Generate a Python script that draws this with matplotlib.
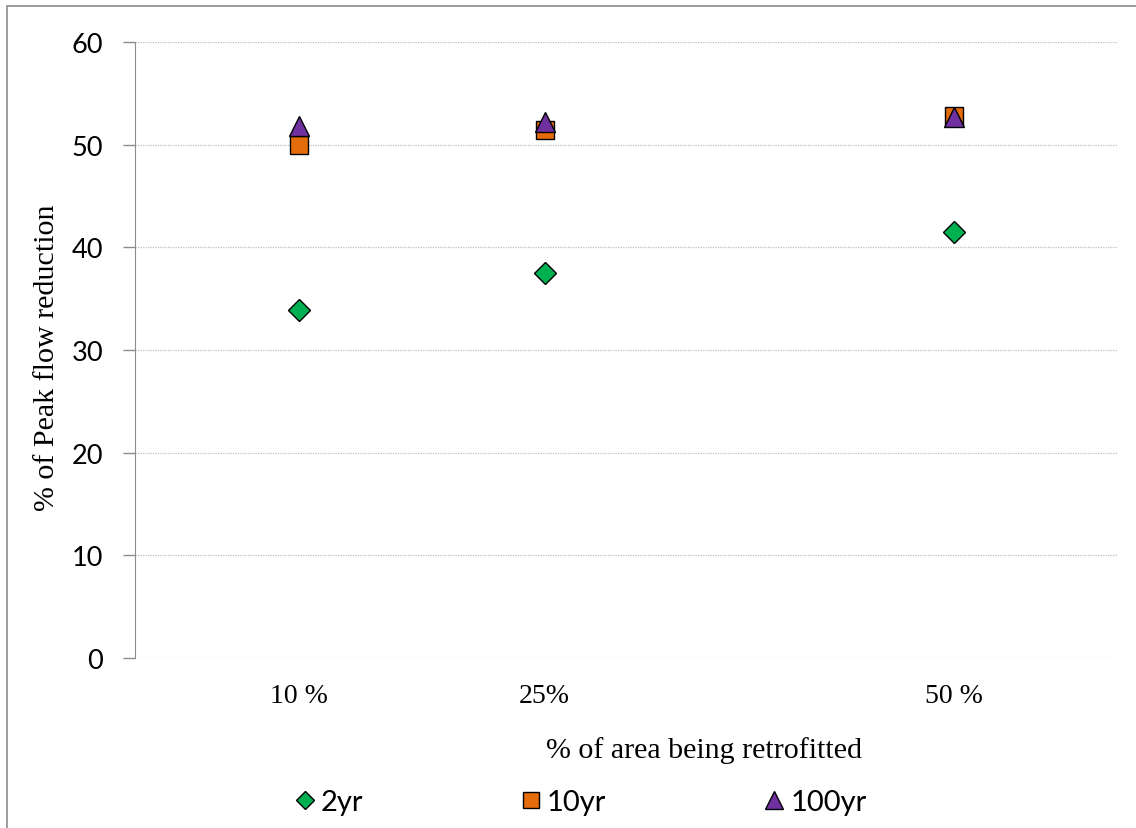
import matplotlib
matplotlib.use('Agg')
import matplotlib.pyplot as plt
from matplotlib.patches import Rectangle

# data
area = [10, 25, 50]
area_labels = ['10 %', '25%', '50 %']
yr2 = [33.9, 37.5, 41.5]
yr10 = [50.0, 51.4, 52.8]
yr100 = [51.8, 52.2, 52.7]

fig = plt.figure(figsize=(11.36, 8.29), dpi=100)
ax = fig.add_axes([0.1188, 0.2051, 0.8654, 0.7430])

# outer chart border (only left/top visible in the reference)
fig.patches.append(Rectangle((7/1136, -0.05), 1.2, 1 - 7/829 + 0.05, transform=fig.transFigure,
                             fill=False, edgecolor='#8c8c8c', linewidth=1.2))

ax.plot(area, yr2, linestyle='none', marker='D', ms=11, color='#00B050', mec='black', mew=1, label='2yr', zorder=3)
ax.plot(area, yr10, linestyle='none', marker='s', ms=13, color='#E46C0A', mec='black', mew=1, label='10yr', zorder=4)
ax.plot(area, yr100, linestyle='none', marker='^', ms=15, color='#7030A0', mec='black', mew=1, label='100yr', zorder=5)

ax.set_xlim(0, 60)
ax.set_ylim(0, 60)
ax.set_yticks(range(0, 61, 10))
ax.set_xticks(area)
ax.set_xticklabels(area_labels, family='Liberation Serif', fontsize=20)
ax.tick_params(axis='x', length=0, pad=18)
ax.tick_params(axis='y', length=9, width=1, color='#8c8c8c', pad=14, labelsize=19.5)
for lb in ax.get_yticklabels():
    lb.set_family('Lato')

for s in ['top', 'right', 'bottom']:
    ax.spines[s].set_visible(False)
ax.spines['left'].set_color('#8c8c8c')
ax.grid(axis='y', linestyle=(0, (1, 1)), color='#bfbfbf', linewidth=0.9)
ax.set_axisbelow(True)

ax.set_xlabel('% of area being retrofitted', family='Liberation Serif', fontsize=21.6, labelpad=20)
ax.set_ylabel('% of Peak flow reduction', family='Liberation Serif', fontsize=21.6, labelpad=8)
ax.xaxis.label.set_x(0.579)
ax.yaxis.label.set_y(0.489)

leg_marks = [ax.lines[0], ax.lines[1], ax.lines[2]]
fig.legend(leg_marks, ['2yr', '10yr', '100yr'], loc='center', bbox_to_anchor=(0.511, 0.031), ncol=3, frameon=False,
           prop={'family': 'Lato', 'size': 21}, handlelength=0.7, handletextpad=0.2,
           columnspacing=5.4, markerscale=0.85)

plt.savefig('out.png', dpi=100)
